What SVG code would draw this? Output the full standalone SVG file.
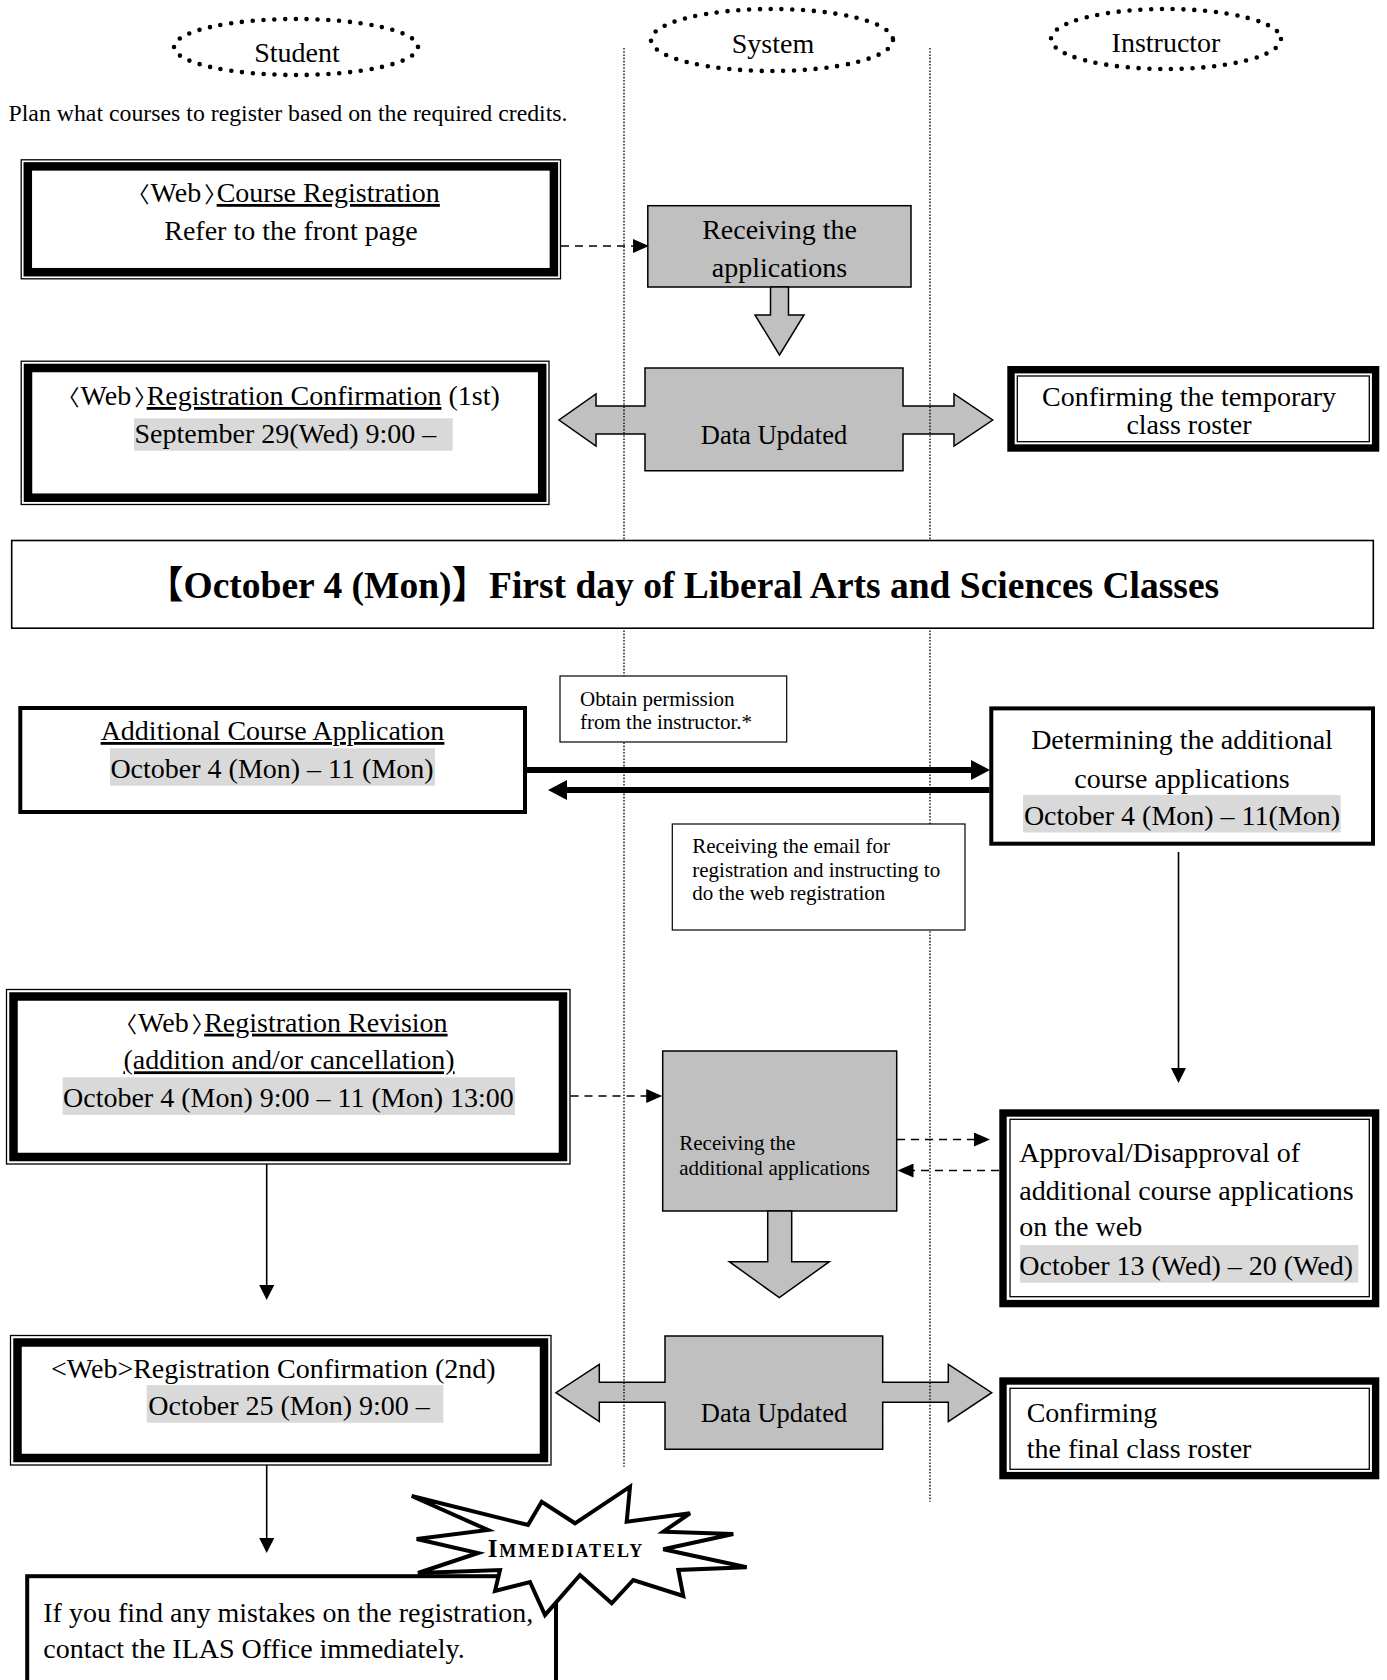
<svg xmlns="http://www.w3.org/2000/svg" width="1387" height="1680" viewBox="0 0 1387 1680">
<style>
text{font-family:"Liberation Serif",serif;fill:#000}
.cjk{font-family:"Noto Sans CJK JP",sans-serif}
.cjkh{font-family:"Noto Sans CJK JP",sans-serif;font-size:22px;font-feature-settings:"halt"}
.t28{font-size:28px}
.t26{font-size:26.5px}
.t24{font-size:23.8px}
.t21{font-size:21px}
.tb{font-size:37.5px;font-weight:bold}
.thin{fill:none;stroke:#000;stroke-width:1.3}
.thk{fill:none;stroke:#000;stroke-width:8.5}
.thk7{fill:none;stroke:#000;stroke-width:7.4}
.wbg{fill:#fff;stroke:none}
.box4{fill:#fff;stroke:#000;stroke-width:4}
.note{fill:#fff;stroke:#000;stroke-width:1.2}
.banner{fill:#fff;stroke:#000;stroke-width:1.6}
.gray{fill:#c0c0c0;stroke:#000;stroke-width:1.5}
.hl{fill:#d9d9d9}
.lane{stroke:#000;stroke-width:1.3;stroke-dasharray:1.6 1.6;fill:none}
.dots{fill:none;stroke:#000;stroke-width:4.6;stroke-linecap:round;stroke-dasharray:0 10.8}
.u{text-decoration:underline}
.dash{fill:none;stroke:#000;stroke-width:1.5;stroke-dasharray:8 6}
.solid{fill:none;stroke:#000;stroke-width:1.6}
.bold{fill:none;stroke:#000;stroke-width:6}
.burst{fill:#fff;stroke:#000;stroke-width:4;stroke-linejoin:miter}
.sc{font-size:25px;font-weight:bold;font-variant:small-caps;letter-spacing:2px}
</style>
<defs>
<marker id="ah" markerUnits="userSpaceOnUse" markerWidth="17" markerHeight="14" refX="0.5" refY="7" orient="auto"><path d="M0,0 L16,7 L0,14 Z" fill="#000"/></marker>
<marker id="av" markerUnits="userSpaceOnUse" markerWidth="16" markerHeight="15" refX="0.5" refY="7.5" orient="auto"><path d="M0,0 L15,7.5 L0,15 Z" fill="#000"/></marker>
<marker id="ab" markerUnits="userSpaceOnUse" markerWidth="20" markerHeight="20" refX="0.5" refY="10" orient="auto"><path d="M0,0 L19,10 L0,20 Z" fill="#000"/></marker>
</defs>
<rect width="1387" height="1680" fill="#fff"/>

<g id="header-student"><ellipse class="dots" cx="296" cy="47" rx="122" ry="28"/><text class="t28" x="297" y="62" text-anchor="middle">Student</text></g>
<g id="header-system"><ellipse class="dots" cx="772" cy="40" rx="121" ry="31"/><text class="t28" x="773" y="52.5" text-anchor="middle">System</text></g>
<g id="header-instructor"><ellipse class="dots" cx="1166" cy="39" rx="115" ry="30"/><text class="t28" x="1166" y="51.5" text-anchor="middle">Instructor</text></g>

<g id="plan-note"><text class="t24" x="8.5" y="121">Plan what courses to register based on the required credits.</text></g>

<g id="data-updated-1"><path class="gray" d="M645,368 L903,368 L903,406 L954,406 L954,394 L992.7,420 L954,446 L954,434 L903,434 L903,470.7 L645,470.7 L645,434 L596,434 L596,446 L559,420 L596,394 L596,406 L645,406 Z"/><text class="t26" x="774" y="444" text-anchor="middle">Data Updated</text></g>
<g id="data-updated-2"><path class="gray" d="M665,1336 L882.7,1336 L882.7,1382.3 L948.3,1382.3 L948.3,1364.3 L991.7,1392.7 L948.3,1421.7 L948.3,1402.3 L882.7,1402.3 L882.7,1449.3 L665,1449.3 L665,1402.3 L599.3,1402.3 L599.3,1421.7 L556,1392.7 L599.3,1364.3 L599.3,1382.3 L665,1382.3 Z"/><text class="t26" x="774" y="1421.7" text-anchor="middle">Data Updated</text></g>

<g id="lanes"><line class="lane" x1="624" y1="48" x2="624" y2="1466.7"/><line class="lane" x1="930" y1="48" x2="930" y2="1501.7"/></g>

<g id="course-registration"><rect class="wbg" x="21" y="160" width="540" height="119"/><rect class="thin" x="21.2" y="159.8" width="539.3" height="119"/><rect class="thk" x="27.8" y="166.4" width="526.1" height="105.8"/><text class="t28" x="138.5" y="202"><tspan class="cjkh">〈</tspan><tspan dx="1">Web</tspan><tspan class="cjkh" dx="3">〉</tspan><tspan class="u" dx="1.5">Course Registration</tspan></text><text class="t28" x="291" y="240" text-anchor="middle">Refer to the front page</text></g>

<g id="receiving-applications"><rect class="gray" x="647.8" y="205.7" width="263.2" height="81.3"/><path class="gray" d="M770.5,287 L788.5,287 L788.5,315 L804,315 L779.5,355 L755,315 L770.5,315 Z"/><text class="t28" x="779.5" y="239" text-anchor="middle">Receiving the</text><text class="t28" x="779.5" y="277" text-anchor="middle">applications</text></g>

<g id="registration-confirmation-1"><rect class="wbg" x="21" y="361" width="528" height="144"/><rect class="thin" x="21.2" y="361.2" width="527.8" height="143.3"/><rect class="thk" x="28" y="368" width="514.2" height="129.7"/><rect class="hl" x="134" y="418.3" width="318.7" height="32.4"/><text class="t28" x="68.5" y="405"><tspan class="cjkh">〈</tspan><tspan dx="1">Web</tspan><tspan class="cjkh" dx="3">〉</tspan><tspan class="u" dx="1.5">Registration Confirmation</tspan><tspan> (1st)</tspan></text><text class="t28" x="134.5" y="443">September 29(Wed) 9:00 –</text></g>

<g id="confirm-temporary"><rect class="wbg" x="1008" y="366" width="371" height="85"/><rect class="thk7" x="1011" y="369.7" width="364.6" height="78.3"/><rect class="thin" x="1017.3" y="376" width="352" height="65.7"/><text class="t28" x="1189" y="406" text-anchor="middle">Confirming the temporary</text><text class="t28" x="1189" y="434" text-anchor="middle">class roster</text></g>

<g id="banner"><rect class="banner" x="11.7" y="540.5" width="1361.6" height="87.7"/><text class="tb" x="146" y="598"><tspan class="cjk">【</tspan><tspan>October 4 (Mon)</tspan><tspan class="cjk">】</tspan><tspan>First day of Liberal Arts and Sciences Classes</tspan></text></g>

<g id="obtain-permission"><rect class="note" x="560" y="676" width="226.7" height="66"/><text class="t21" x="580" y="705.7">Obtain permission</text><text class="t21" x="580" y="729.3">from the instructor.*</text></g>

<g id="receiving-email"><rect class="note" x="672.3" y="824" width="292.7" height="106"/><text class="t21" x="692.3" y="853.3">Receiving the email for</text><text class="t21" x="692.3" y="876.7">registration and instructing to</text><text class="t21" x="692.3" y="900">do the web registration</text></g>

<g id="additional-course-application"><rect class="box4" x="20.3" y="708" width="504.7" height="104"/><rect class="hl" x="110" y="748.3" width="325" height="37.4"/><text class="t28" x="272.5" y="740" text-anchor="middle"><tspan class="u">Additional Course Application</tspan></text><text class="t28" x="272" y="778" text-anchor="middle">October 4 (Mon) – 11 (Mon)</text></g>

<g id="determining-additional"><rect class="box4" x="991.3" y="708.4" width="381.7" height="135.3"/><rect class="hl" x="1023" y="795" width="317.7" height="37.5"/><text class="t28" x="1182" y="748.6" text-anchor="middle">Determining the additional</text><text class="t28" x="1182" y="788" text-anchor="middle">course applications</text><text class="t28" x="1182" y="825" text-anchor="middle">October 4 (Mon) – 11(Mon)</text></g>

<g id="registration-revision"><rect class="wbg" x="6" y="989" width="564" height="175"/><rect class="thin" x="6.5" y="989.5" width="563.5" height="174.5"/><rect class="thk" x="13.5" y="996.5" width="549.5" height="160.5"/><rect class="hl" x="62.7" y="1077.3" width="452.3" height="37.7"/><text class="t28" x="126" y="1031.7"><tspan class="cjkh">〈</tspan><tspan dx="1">Web</tspan><tspan class="cjkh" dx="3">〉</tspan><tspan class="u" dx="1.5">Registration Revision </tspan></text><text class="t28" x="289" y="1069.3" text-anchor="middle"><tspan class="u">(addition and/or cancellation)</tspan></text><text class="t28" x="63" y="1106.7">October 4 (Mon) 9:00 – 11 (Mon) 13:00</text></g>

<g id="receiving-additional"><rect class="gray" x="662.7" y="1051" width="234" height="160"/><path class="gray" d="M767.7,1211 L791.7,1211 L791.7,1261.7 L829.3,1261.7 L779.3,1297.7 L729.3,1261.7 L767.7,1261.7 Z"/><text class="t21" x="679.3" y="1150">Receiving the</text><text class="t21" x="679.3" y="1175">additional applications</text></g>

<g id="approval"><rect class="wbg" x="999" y="1109" width="380" height="198"/><rect class="thk7" x="1003" y="1113" width="372.6" height="190.6"/><rect class="thin" x="1010" y="1119.3" width="359.3" height="177.4"/><rect class="hl" x="1020" y="1245" width="338.3" height="37.7"/><text class="t28" x="1019.3" y="1161.7">Approval/Disapproval of</text><text class="t28" x="1019.3" y="1200">additional course applications</text><text class="t28" x="1019.3" y="1236">on the web</text><text class="t28" x="1019.3" y="1275">October 13 (Wed) – 20 (Wed)</text></g>

<g id="registration-confirmation-2"><rect class="wbg" x="10" y="1335" width="541" height="130"/><rect class="thin" x="10.5" y="1335.5" width="540.5" height="129.5"/><rect class="thk" x="17.5" y="1342.5" width="526.5" height="115.5"/><rect class="hl" x="146.7" y="1385" width="296.6" height="37.7"/><text class="t28" x="51" y="1378.3">&lt;Web&gt;Registration Confirmation (2nd)</text><text class="t28" x="148.3" y="1415">October 25 (Mon) 9:00 –</text></g>

<g id="confirm-final"><rect class="wbg" x="999" y="1377" width="380" height="102"/><rect class="thk7" x="1003" y="1381" width="372.6" height="94.6"/><rect class="thin" x="1010" y="1388.3" width="359.3" height="81"/><text class="t28" x="1026.7" y="1421.7">Confirming</text><text class="t28" x="1026.7" y="1458.3">the final class roster</text></g>

<g id="contact-office"><rect class="box4" x="27.2" y="1576.2" width="528.8" height="200"/><text class="t28" x="43.3" y="1621.7">If you find any mistakes on the registration,</text><text class="t28" x="43.3" y="1658.3">contact the ILAS Office immediately.</text></g>

<g id="immediately-burst"><polygon class="burst" points="411.7,1496 528,1525 541.7,1501.7 575,1523.3 630,1486.7 626.7,1521.7 690,1513.3 663.3,1531.7 733.3,1534 663.3,1549.3 746.7,1567.3 678.3,1570 683.3,1596 633.3,1580 611.7,1603.3 580,1575 545,1615 530,1582 495,1591 500,1570 418,1573 478,1553 416.7,1539 488,1530"/><text class="sc" x="566" y="1556.7" text-anchor="middle">Immediately</text></g>

<g id="connectors">
<line class="dash" x1="561" y1="246" x2="633.5" y2="246" marker-end="url(#ah)"/>
<line class="bold" x1="527" y1="770" x2="971.5" y2="770" marker-end="url(#ab)"/>
<line class="bold" x1="989.5" y1="790" x2="566.5" y2="790" marker-end="url(#ab)"/>
<line class="solid" x1="1178.5" y1="852" x2="1178.5" y2="1068.5" marker-end="url(#av)"/>
<line class="dash" x1="570.5" y1="1096" x2="646.7" y2="1096" marker-end="url(#ah)"/>
<line class="dash" x1="897" y1="1139.5" x2="974.5" y2="1139.5" marker-end="url(#ah)"/>
<line class="dash" x1="999" y1="1170.5" x2="913" y2="1170.5" marker-end="url(#ah)"/>
<line class="solid" x1="266.7" y1="1164" x2="266.7" y2="1285.5" marker-end="url(#av)"/>
<line class="solid" x1="266.7" y1="1465" x2="266.7" y2="1538.5" marker-end="url(#av)"/>
</g>
</svg>
